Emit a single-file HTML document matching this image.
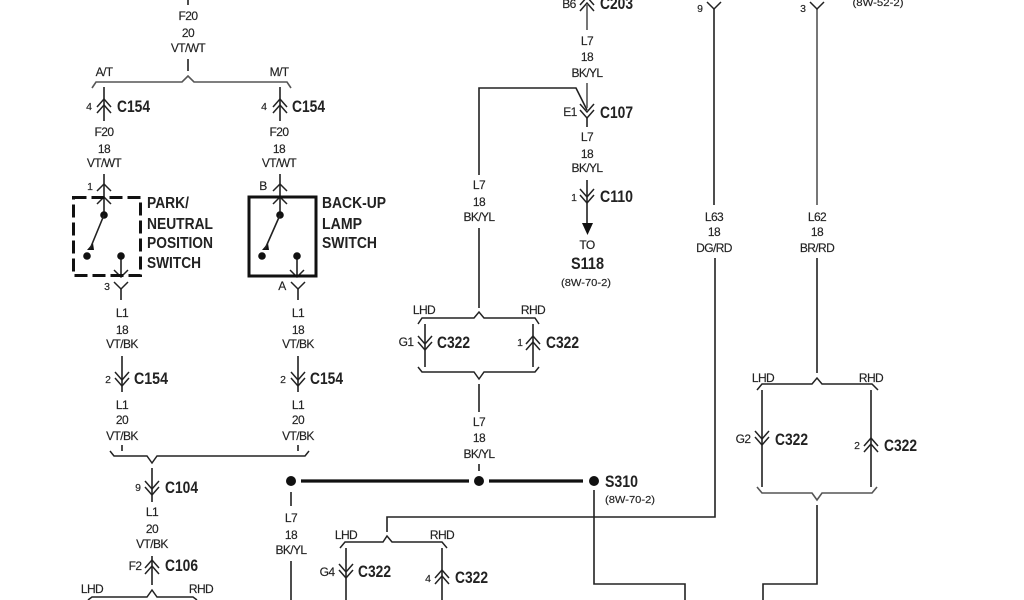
<!DOCTYPE html>
<html><head><meta charset="utf-8"><style>
html,body{margin:0;padding:0;background:#fff;width:1024px;height:600px;overflow:hidden}
svg{display:block;filter:blur(.35px)}
text{font-family:"Liberation Sans",sans-serif;fill:#222}
.s{font-size:12px;text-anchor:middle;letter-spacing:-.6px;stroke:#222;stroke-width:.15}
.n{font-size:10.500px;text-anchor:middle;stroke:#222;stroke-width:.15}
.b{font-size:17px;font-weight:bold;fill:#222}
.t{font-size:16px;font-weight:bold;fill:#222}
.w{fill:none;stroke:#222;stroke-width:1.6}
.g{fill:none;stroke:#555;stroke-width:1.6}
.c{fill:none;stroke:#222;stroke-width:1.5}
</style></head><body>
<svg width="1024" height="600" viewBox="0 0 1024 600" xmlns="http://www.w3.org/2000/svg">
<defs>
<g id="dn" class="c"><path d="M-7,-7 L0,1 L7,-7"/><path d="M-7,-1 L0,7 L7,-1"/></g>
<g id="up" class="c"><path d="M-7,7 L0,-1 L7,7"/><path d="M-7,1 L0,-7 L7,1"/></g>
<g id="yd" class="c"><path d="M-7,-6 L0,1 L7,-6"/></g>
<g id="yu" class="c"><path d="M-7,6 L0,-1 L7,6"/></g>
</defs>

<!-- wires left -->
<path class="w" d="M188,0V5M188,59V71M104,87V121M280,87V121M104,174V215M280,174V215M121,256V276M297,256V276M121,288V300M298,288V300M122,356V392M298,356V392M122,445V451M298,445V451M152,468V502M152,556V585M291,492V506M291,561V600"/>
<path class="g" d="M92,88L96,82H182L188,76L194,82H287L291,88"/>
<path class="c" d="M110,451L114,456H147L152,463L157,456H305L309,451"/>
<path class="c" d="M88,600L92,597H147L152,590L157,597H193L197,600"/>
<use href="#up" x="104" y="106"/><use href="#up" x="280" y="106"/>
<use href="#yu" x="104" y="185"/><use href="#yu" x="280" y="185"/>
<use href="#yu" x="104" y="198"/><use href="#yu" x="280" y="198"/>
<use href="#yd" x="121" y="276"/><use href="#yd" x="297" y="276"/>
<use href="#yd" x="121" y="288"/><use href="#yd" x="298" y="288"/>
<use href="#dn" x="122" y="379"/><use href="#dn" x="298" y="379"/>
<use href="#dn" x="152" y="488"/><use href="#up" x="152" y="567"/>

<!-- switch boxes -->
<rect x="73.500" y="197.500" width="67" height="78" fill="none" stroke="#111" stroke-width="3" stroke-dasharray="13 5"/>
<rect x="249" y="197" width="67" height="79" fill="none" stroke="#111" stroke-width="3"/>
<g fill="#111">
<circle cx="104" cy="215" r="3.800"/><circle cx="87" cy="256" r="3.800"/><circle cx="121" cy="256" r="3.800"/>
<circle cx="280" cy="215" r="3.800"/><circle cx="262" cy="256" r="3.800"/><circle cx="297" cy="256" r="3.800"/>
<path d="M87,250L93,243L94,250Z"/><path d="M262,250L268,243L269,250Z"/>
</g>
<path class="w" d="M104,215L90,249M280,215L265,249"/>

<!-- left labels -->
<text class="s" x="188" y="20">F20</text><text class="s" x="188" y="37">20</text><text class="s" x="188" y="52">VT/WT</text>
<text class="s" x="104" y="76">A/T</text><text class="s" x="279" y="76">M/T</text>
<text class="n" x="89" y="110">4</text><text class="n" x="264" y="110">4</text>
<text class="b" x="117" y="112" textLength="33" lengthAdjust="spacingAndGlyphs">C154</text>
<text class="b" x="292" y="112" textLength="33" lengthAdjust="spacingAndGlyphs">C154</text>
<text class="s" x="104" y="136">F20</text><text class="s" x="104" y="153">18</text><text class="s" x="104" y="167">VT/WT</text>
<text class="s" x="279" y="136">F20</text><text class="s" x="279" y="153">18</text><text class="s" x="279" y="167">VT/WT</text>
<text class="n" x="90" y="190">1</text><text class="s" x="263" y="190">B</text>
<text class="n" x="107" y="290">3</text><text class="s" x="282" y="290">A</text>
<text class="t" x="147" y="208" textLength="42" lengthAdjust="spacingAndGlyphs">PARK/</text>
<text class="t" x="147" y="229" textLength="66" lengthAdjust="spacingAndGlyphs">NEUTRAL</text>
<text class="t" x="147" y="248" textLength="66" lengthAdjust="spacingAndGlyphs">POSITION</text>
<text class="t" x="147" y="268" textLength="54" lengthAdjust="spacingAndGlyphs">SWITCH</text>
<text class="t" x="322" y="208" textLength="64" lengthAdjust="spacingAndGlyphs">BACK-UP</text>
<text class="t" x="322" y="229" textLength="40" lengthAdjust="spacingAndGlyphs">LAMP</text>
<text class="t" x="322" y="248" textLength="55" lengthAdjust="spacingAndGlyphs">SWITCH</text>
<text class="s" x="122" y="317">L1</text><text class="s" x="122" y="334">18</text><text class="s" x="122" y="348">VT/BK</text>
<text class="s" x="298" y="317">L1</text><text class="s" x="298" y="334">18</text><text class="s" x="298" y="348">VT/BK</text>
<text class="n" x="108" y="383">2</text><text class="n" x="283" y="383">2</text>
<text class="b" x="134" y="384" textLength="34" lengthAdjust="spacingAndGlyphs">C154</text>
<text class="b" x="310" y="384" textLength="33" lengthAdjust="spacingAndGlyphs">C154</text>
<text class="s" x="122" y="409">L1</text><text class="s" x="122" y="424">20</text><text class="s" x="122" y="440">VT/BK</text>
<text class="s" x="298" y="409">L1</text><text class="s" x="298" y="424">20</text><text class="s" x="298" y="440">VT/BK</text>
<text class="n" x="138" y="491">9</text>
<text class="b" x="165" y="493" textLength="33" lengthAdjust="spacingAndGlyphs">C104</text>
<text class="s" x="152" y="516">L1</text><text class="s" x="152" y="533">20</text><text class="s" x="152" y="548">VT/BK</text>
<text class="s" x="135" y="570">F2</text>
<text class="b" x="165" y="571" textLength="33" lengthAdjust="spacingAndGlyphs">C106</text>
<text class="s" x="92" y="593">LHD</text><text class="s" x="201" y="593">RHD</text>

<!-- splice -->
<path d="M301,481H469M489,481H583" stroke="#111" stroke-width="3.200" fill="none"/>
<g fill="#111"><circle cx="291" cy="481" r="5"/><circle cx="479" cy="481" r="5"/><circle cx="594" cy="481" r="5"/></g>
<text class="b" x="605" y="487" textLength="33" lengthAdjust="spacingAndGlyphs">S310</text>
<text class="n" x="630" y="503" textLength="50" lengthAdjust="spacingAndGlyphs">(8W-70-2)</text>
<text class="s" x="291" y="522">L7</text><text class="s" x="291" y="539">18</text><text class="s" x="291" y="554">BK/YL</text>

<!-- lower wires -->
<path class="w" d="M594,490V584H685V600M715,258V517H387V532M817,505V584H763V600"/>
<path class="c" d="M340,548L345,542H383L387,536L392,542H442L447,548"/>
<path class="w" d="M346,548V600M442,548V600"/>
<use href="#dn" x="346" y="571"/><use href="#up" x="442" y="577"/>
<text class="s" x="346" y="539">LHD</text><text class="s" x="442" y="539">RHD</text>
<text class="s" x="327" y="576">G4</text><text class="n" x="428" y="582">4</text>
<text class="b" x="358" y="577" textLength="33" lengthAdjust="spacingAndGlyphs">C322</text>
<text class="b" x="455" y="583" textLength="33" lengthAdjust="spacingAndGlyphs">C322</text>

<!-- centre -->
<path class="w" d="M479,228V308M479,175V88H576L587,110M479,384V412M479,464V471M425,324V367M533,324V367"/>
<path class="g" d="M587,5V30M587,83V108"/>
<path class="w" d="M587,118V127M587,180V226"/>
<path d="M582,223H593L587.500,235Z" fill="#111"/>
<path class="c" d="M418,324L422,318H474L479,312L484,318H535L539,324"/>
<path class="c" d="M418,367L422,372H474L479,379L484,372H535L539,367"/>
<use href="#up" x="587" y="4"/><use href="#dn" x="587" y="111"/><use href="#dn" x="587" y="196"/>
<use href="#dn" x="425" y="343"/><use href="#up" x="533" y="343"/>
<text class="s" x="569" y="8">B6</text>
<text class="b" x="600" y="9" textLength="33" lengthAdjust="spacingAndGlyphs">C203</text>
<text class="s" x="587" y="45">L7</text><text class="s" x="587" y="61">18</text><text class="s" x="587" y="77">BK/YL</text>
<text class="s" x="570" y="116">E1</text>
<text class="b" x="600" y="118" textLength="33" lengthAdjust="spacingAndGlyphs">C107</text>
<text class="s" x="587" y="141">L7</text><text class="s" x="587" y="158">18</text><text class="s" x="587" y="172">BK/YL</text>
<text class="n" x="574" y="201">1</text>
<text class="b" x="600" y="202" textLength="33" lengthAdjust="spacingAndGlyphs">C110</text>
<text class="s" x="587" y="249">TO</text>
<text class="b" x="571" y="269" textLength="33" lengthAdjust="spacingAndGlyphs">S118</text>
<text class="n" x="586" y="286" textLength="50" lengthAdjust="spacingAndGlyphs">(8W-70-2)</text>
<text class="s" x="479" y="189">L7</text><text class="s" x="479" y="206">18</text><text class="s" x="479" y="221">BK/YL</text>
<text class="s" x="424" y="314">LHD</text><text class="s" x="533" y="314">RHD</text>
<text class="s" x="406" y="346">G1</text><text class="n" x="520" y="346">1</text>
<text class="b" x="437" y="348" textLength="33" lengthAdjust="spacingAndGlyphs">C322</text>
<text class="b" x="546" y="348" textLength="33" lengthAdjust="spacingAndGlyphs">C322</text>
<text class="s" x="479" y="426">L7</text><text class="s" x="479" y="442">18</text><text class="s" x="479" y="458">BK/YL</text>

<!-- right -->
<path class="w" d="M714,8V205M817,258V373M762,390V487M871,390V487"/>
<path class="g" d="M817,8V205"/>
<use href="#yd" x="714" y="8"/><use href="#yd" x="817" y="8"/>
<text class="n" x="700" y="12">9</text><text class="n" x="803" y="12">3</text>
<text class="n" x="878" y="6" textLength="51" lengthAdjust="spacingAndGlyphs">(8W-52-2)</text>
<text class="s" x="714" y="221">L63</text><text class="s" x="714" y="236">18</text><text class="s" x="714" y="252">DG/RD</text>
<text class="s" x="817" y="221">L62</text><text class="s" x="817" y="236">18</text><text class="s" x="817" y="252">BR/RD</text>
<path class="c" d="M757,390L762,384H812L817,378L822,384H872L878,390"/>
<path class="g" d="M757,487L762,493H812L817,500L822,493H872L877,487"/>
<use href="#dn" x="762" y="438"/><use href="#up" x="871" y="445"/>
<text class="s" x="763" y="382">LHD</text><text class="s" x="871" y="382">RHD</text>
<text class="s" x="743" y="443">G2</text><text class="n" x="857" y="449">2</text>
<text class="b" x="775" y="445" textLength="33" lengthAdjust="spacingAndGlyphs">C322</text>
<text class="b" x="884" y="451" textLength="33" lengthAdjust="spacingAndGlyphs">C322</text>
</svg>
</body></html>
